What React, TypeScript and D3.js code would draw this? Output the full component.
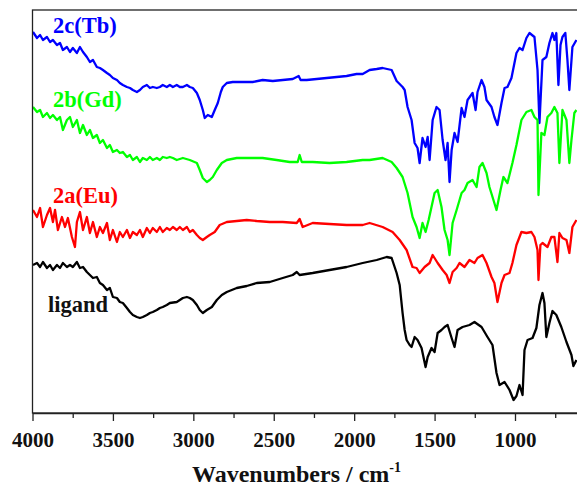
import { useEffect, useRef } from 'react';
import * as d3 from 'd3';

type Pt = [number, number];

// [wavenumber cm-1, transmittance (a.u., traces stacked)]
const tb: Pt[] = [
  [3997, 381], [3972, 375], [3953, 378], [3935, 373], [3910, 376], [3891, 371], [3873, 373], [3848, 368],
  [3829, 370], [3811, 363], [3786, 366], [3767, 361], [3749, 365], [3724, 360], [3705, 366], [3686, 361],
  [3662, 356], [3643, 351], [3624, 353], [3600, 346], [3581, 345], [3562, 343], [3537, 340], [3519, 338],
  [3500, 335], [3475, 333], [3457, 330], [3438, 328], [3413, 326], [3394, 325], [3376, 323], [3351, 321],
  [3332, 323], [3314, 326], [3289, 328], [3270, 325], [3252, 326], [3227, 325], [3208, 326], [3190, 328],
  [3165, 326], [3146, 328], [3127, 326], [3103, 328], [3084, 326], [3065, 326], [3040, 328], [3022, 326],
  [3003, 325], [2978, 320], [2960, 313], [2941, 303], [2929, 295], [2910, 298], [2885, 296], [2867, 303],
  [2848, 310], [2829, 321], [2817, 326], [2792, 330], [2755, 331], [2693, 331], [2631, 331], [2569, 333],
  [2506, 332], [2444, 333], [2382, 334], [2345, 337], [2333, 333], [2295, 333], [2233, 334], [2171, 335],
  [2109, 336], [2047, 337], [1985, 339], [1947, 339], [1904, 343], [1860, 344], [1823, 345], [1767, 343],
  [1736, 332], [1699, 326], [1686, 323], [1668, 306], [1643, 293], [1624, 270], [1606, 265], [1593, 250],
  [1575, 275], [1556, 266], [1543, 276], [1531, 253], [1512, 293], [1488, 306], [1469, 303], [1450, 273],
  [1432, 253], [1419, 270], [1407, 231], [1394, 263], [1376, 280], [1357, 271], [1332, 305], [1314, 296],
  [1295, 313], [1264, 320], [1245, 303], [1233, 321], [1208, 333], [1190, 326], [1177, 313], [1146, 306],
  [1128, 296], [1109, 288], [1084, 310], [1065, 325], [1047, 326], [1022, 335], [991, 360], [972, 365],
  [953, 363], [929, 375], [910, 380], [879, 376], [860, 343], [848, 290], [829, 353], [805, 356],
  [786, 370], [767, 380], [755, 373], [743, 380], [730, 328], [717, 368], [705, 376], [687, 380],
  [674, 353], [662, 323], [643, 366], [618, 373],
];

const gd: Pt[] = [
  [3997, 306], [3972, 301], [3953, 303], [3935, 296], [3910, 300], [3891, 295], [3873, 298], [3848, 293],
  [3829, 296], [3811, 283], [3786, 293], [3767, 296], [3749, 286], [3724, 293], [3705, 280], [3686, 288],
  [3662, 278], [3643, 283], [3624, 275], [3600, 278], [3581, 270], [3562, 273], [3537, 265], [3519, 268],
  [3500, 261], [3475, 263], [3457, 260], [3438, 261], [3413, 256], [3394, 258], [3376, 253], [3351, 256],
  [3332, 251], [3314, 255], [3289, 253], [3270, 256], [3252, 253], [3227, 255], [3208, 253], [3190, 256],
  [3165, 255], [3146, 256], [3127, 255], [3103, 253], [3065, 255], [3022, 253], [2978, 250], [2960, 243],
  [2941, 235], [2916, 231], [2898, 233], [2879, 236], [2854, 243], [2823, 250], [2792, 253], [2730, 255],
  [2649, 255], [2569, 255], [2482, 253], [2401, 251], [2351, 251], [2339, 258], [2326, 251], [2258, 251],
  [2153, 250], [2047, 251], [1947, 253], [1904, 253], [1823, 255], [1767, 251], [1736, 245], [1699, 236],
  [1668, 220], [1637, 196], [1612, 186], [1593, 175], [1575, 190], [1556, 181], [1537, 193], [1500, 220],
  [1481, 223], [1457, 206], [1438, 183], [1419, 173], [1407, 158], [1388, 190], [1363, 203], [1332, 220],
  [1314, 223], [1295, 230], [1264, 233], [1239, 226], [1221, 246], [1202, 250], [1177, 240], [1159, 226],
  [1134, 213], [1115, 203], [1090, 223], [1072, 236], [1047, 230], [1016, 250], [991, 268], [960, 293],
  [929, 301], [898, 303], [879, 296], [860, 293], [854, 218], [836, 280], [817, 278], [798, 296],
  [774, 300], [755, 306], [736, 300], [724, 250], [705, 303], [680, 293], [662, 250], [649, 273],
  [631, 300], [618, 303],
];

const eu: Pt[] = [
  [3997, 203], [3972, 196], [3953, 205], [3935, 186], [3910, 198], [3891, 205], [3873, 191], [3860, 203],
  [3842, 183], [3817, 196], [3798, 186], [3780, 195], [3755, 176], [3736, 166], [3724, 191], [3705, 201],
  [3686, 183], [3662, 196], [3643, 180], [3624, 191], [3600, 176], [3581, 186], [3562, 180], [3537, 190],
  [3519, 173], [3500, 183], [3475, 171], [3457, 181], [3438, 176], [3413, 183], [3394, 175], [3376, 181],
  [3351, 178], [3332, 183], [3314, 176], [3289, 185], [3270, 180], [3252, 185], [3227, 181], [3208, 186],
  [3190, 181], [3165, 185], [3146, 183], [3127, 186], [3103, 183], [3084, 186], [3065, 183], [3040, 186],
  [3022, 181], [3003, 183], [2978, 178], [2960, 175], [2941, 173], [2916, 176], [2898, 178], [2867, 181],
  [2836, 188], [2792, 191], [2730, 192], [2668, 193], [2606, 192], [2525, 191], [2444, 191], [2357, 190],
  [2339, 194], [2320, 186], [2258, 190], [2153, 189], [2047, 188], [1947, 188], [1904, 190], [1823, 186],
  [1761, 181], [1717, 173], [1674, 163], [1637, 146], [1612, 145], [1593, 140], [1562, 146], [1531, 150],
  [1512, 158], [1481, 150], [1450, 143], [1425, 138], [1407, 130], [1388, 141], [1363, 145], [1345, 150],
  [1314, 146], [1283, 153], [1252, 150], [1233, 155], [1202, 158], [1177, 150], [1146, 136], [1128, 130],
  [1109, 111], [1084, 130], [1065, 138], [1034, 140], [1016, 150], [991, 168], [960, 181], [929, 180],
  [898, 181], [879, 176], [860, 163], [854, 133], [842, 168], [829, 170], [798, 166], [774, 176],
  [755, 176], [736, 151], [724, 180], [705, 175], [680, 173], [662, 160], [643, 186], [618, 193],
];

const ligand: Pt[] = [
  [3997, 148], [3972, 150], [3953, 146], [3935, 151], [3910, 145], [3891, 148], [3873, 143], [3848, 148],
  [3829, 145], [3811, 150], [3786, 146], [3767, 148], [3749, 146], [3724, 151], [3705, 145], [3686, 146],
  [3662, 141], [3643, 138], [3624, 135], [3600, 136], [3581, 130], [3562, 128], [3537, 123], [3519, 125],
  [3500, 116], [3475, 115], [3457, 111], [3438, 110], [3413, 105], [3394, 101], [3376, 98], [3351, 96],
  [3332, 95], [3314, 96], [3289, 98], [3270, 100], [3252, 101], [3227, 103], [3208, 105], [3190, 106],
  [3165, 108], [3146, 110], [3103, 111], [3084, 113], [3065, 115], [3040, 116], [3022, 115], [3003, 113],
  [2978, 108], [2960, 103], [2941, 100], [2916, 103], [2885, 106], [2854, 113], [2823, 118], [2792, 121],
  [2730, 125], [2668, 127], [2606, 130], [2525, 131], [2444, 135], [2382, 138], [2357, 141], [2339, 138],
  [2258, 140], [2153, 143], [2047, 146], [1947, 150], [1860, 153], [1798, 156], [1767, 155], [1736, 140],
  [1717, 128], [1699, 100], [1686, 83], [1674, 73], [1655, 68], [1643, 66], [1624, 76], [1606, 73],
  [1581, 65], [1556, 46], [1543, 56], [1519, 65], [1500, 61], [1481, 80], [1457, 83], [1438, 86],
  [1419, 88], [1394, 75], [1376, 66], [1357, 83], [1326, 86], [1283, 88], [1252, 91], [1208, 86],
  [1171, 76], [1140, 68], [1115, 40], [1096, 28], [1065, 31], [1034, 23], [1009, 13], [991, 17],
  [972, 28], [953, 18], [941, 63], [922, 73], [891, 75], [867, 85], [848, 108], [829, 120],
  [817, 110], [805, 76], [786, 90], [767, 102], [743, 98], [712, 86], [680, 71], [649, 58],
  [637, 47], [618, 53],
];

const majorTicks = [4000, 3500, 3000, 2500, 2000, 1500, 1000];
const minorTicks = [3750, 3250, 2750, 2250, 1750, 1250, 750];

const traces = [
  { name: '2c(Tb)', color: '#0000ff', data: tb, labelAt: [3873, 380] },
  { name: '2b(Gd)', color: '#00ff00', data: gd, labelAt: [3873, 306] },
  { name: '2a(Eu)', color: '#ff0000', data: eu, labelAt: [3873, 210] },
  { name: 'ligand', color: '#000000', data: ligand, labelAt: [3904, 101] },
];

export default function App() {
  const ref = useRef<SVGSVGElement>(null);

  useEffect(() => {
    const width = 577, height = 488;
    const svg = d3.select(ref.current);
    svg.selectAll('*').remove();
    svg.attr('width', width).attr('height', height);

    const font = '"Liberation Serif", "Times New Roman", serif';
    const x = d3.scaleLinear().domain([4000, 400]).range([32.5, 611.5]);
    const y = d3.scaleLinear().domain([0, 403]).range([413, 10]);

    const line = d3.line<Pt>().x(d => x(d[0])).y(d => y(d[1]));

    svg.append('g')
      .selectAll('path')
      .data(traces)
      .join('path')
      .attr('d', d => line(d.data))
      .attr('fill', 'none')
      .attr('stroke', d => d.color)
      .attr('stroke-width', 2.3)
      .attr('stroke-linejoin', 'round');

    // frame
    svg.append('rect')
      .attr('x', x(4000)).attr('y', y(403))
      .attr('width', x(400) - x(4000)).attr('height', y(0) - y(403))
      .attr('fill', 'none').attr('stroke', '#222').attr('stroke-width', 1.3);

    const ax = svg.append('g')
      .attr('transform', `translate(0,${y(0)})`)
      .call(d3.axisBottom(x).tickValues(majorTicks).tickSize(8).tickSizeOuter(0).tickFormat(d3.format('d')));
    ax.select('.domain').attr('stroke', '#222').attr('stroke-width', 1.3);
    ax.selectAll('line').attr('stroke', '#222').attr('stroke-width', 1.3);
    ax.selectAll('text')
      .attr('y', 34).attr('dy', 0)
      .attr('font-family', font).attr('font-size', 21).attr('font-weight', 'bold').attr('fill', '#111');

    const minor = svg.append('g')
      .attr('transform', `translate(0,${y(0)})`)
      .call(d3.axisBottom(x).tickValues(minorTicks).tickSize(5).tickSizeOuter(0).tickFormat(() => ''));
    minor.select('.domain').remove();
    minor.selectAll('line').attr('stroke', '#222').attr('stroke-width', 1.3);

    svg.append('g')
      .selectAll('text')
      .data(traces)
      .join('text')
      .attr('x', d => x(d.labelAt[0]))
      .attr('y', d => y(d.labelAt[1]))
      .attr('fill', d => d.color === '#000000' ? '#111' : d.color)
      .attr('font-family', font)
      .attr('font-weight', 'bold')
      .attr('font-size', 22.5)
      .text(d => d.name);

    const title = svg.append('text')
      .attr('x', 192).attr('y', 482)
      .attr('font-family', font).attr('font-weight', 'bold').attr('font-size', 24).attr('fill', '#111');
    title.append('tspan').text('Wavenumbers / cm');
    title.append('tspan').attr('dy', -10).attr('font-size', 14).text('-1');
  }, []);

  return (
    <div style={{ position: 'absolute', left: 0, top: 0 }}>
      <svg ref={ref}></svg>
    </div>
  );
}
